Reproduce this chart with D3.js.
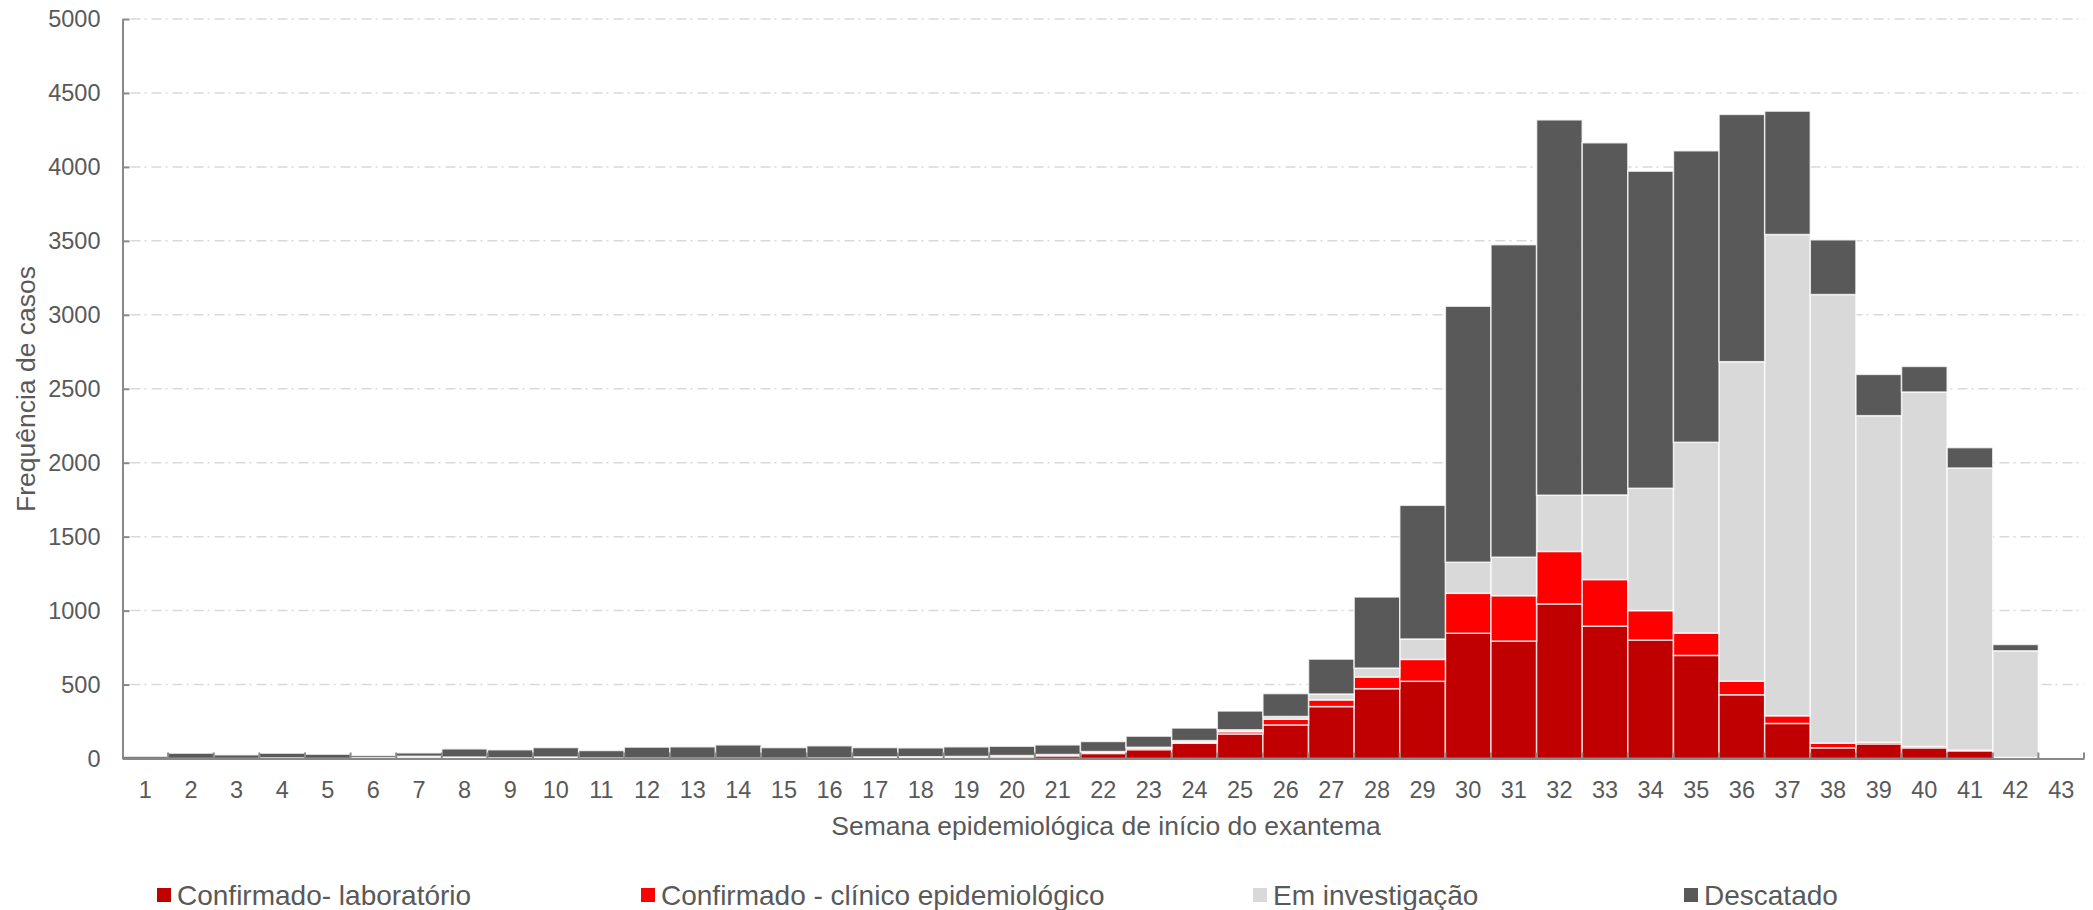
<!DOCTYPE html>
<html lang="pt">
<head>
<meta charset="UTF-8">
<title>Casos por semana epidemiológica</title>
<script src="https://d3js.org/d3.v7.min.js"></script>
<style>
  body { margin: 0; background: #fff; }
  text { font-family: "Liberation Sans", Arial, sans-serif; fill: #595959; }
</style>
</head>
<body>
<script>
// semanas epidemiologicas 1..43
var semanas = d3.range(1, 44);
// Confirmado- laboratório
var laboratorio = [0,0,0,4,0,0,10,3,3,8,2,2,1,2,1,3,2,6,8,11,18,34,60,103,166,227,351,472,522,847,794,1045,895,801,697,431,237,72,99,72,52,5,0];
// Confirmado - clínico epidemiológico
var clinico = [0,0,0,0,0,0,3,3,0,1,0,0,0,0,0,0,2,4,4,5,4,7,10,6,15,39,45,79,148,270,307,355,315,199,151,92,52,32,11,9,4,2,0];
// Em investigação
var investigacao = [0,0,0,0,0,5,2,4,1,1,1,0,0,0,0,0,7,2,2,4,5,6,6,12,13,18,40,60,138,210,260,380,572,827,1290,2160,3254,3033,2208,2397,1908,721,0];
// Descatado
var descartado = [15,36,25,32,29,15,23,55,55,64,51,75,78,90,73,83,63,60,65,63,65,68,75,85,127,155,236,481,904,1731,2113,2538,2381,2144,1971,1672,834,370,279,173,138,43,0];

var series = ["Confirmado- laboratório", "Confirmado - clínico epidemiológico", "Em investigação", "Descatado"];
var cores = ["#c00000", "#ff0000", "#d9d9d9", "#595959"];
var yTicks = d3.range(0, 5001, 500);

var W = 2093, H = 910;
var m = {left: 122.5, right: 2084, top: 19, bottom: 758.5};

var tabela = semanas.map(function(s, i) {
  return {semana: s, a: laboratorio[i], b: clinico[i], c: investigacao[i], d: descartado[i]};
});
var pilhas = d3.stack().keys(["a", "b", "c", "d"])(tabela);

var svg = d3.select("body").append("svg").attr("width", W).attr("height", H);

var x = d3.scaleBand().domain(semanas).range([m.left, m.right]).padding(0);
var y = d3.scaleLinear().domain([0, 5000]).range([m.bottom, m.top]);

// grade tracejada
svg.append("g").selectAll("line").data(yTicks.slice(1)).enter().append("line")
  .attr("x1", m.left + 8).attr("x2", m.right)
  .attr("y1", function(d) { return y(d); }).attr("y2", function(d) { return y(d); })
  .attr("stroke", "#d9d9d9").attr("stroke-width", 1.5)
  .attr("stroke-dasharray", "10,4,2,5");

// barras empilhadas
svg.append("g").selectAll("g").data(pilhas).enter().append("g")
  .attr("fill", function(d, i) { return cores[i]; })
  .selectAll("rect").data(function(d) { return d; }).enter().append("rect")
  .attr("x", function(d) { return x(d.data.semana); })
  .attr("width", x.bandwidth())
  .attr("y", function(d) { return y(d[1]); })
  .attr("height", function(d) { return y(d[0]) - y(d[1]); })
  .attr("stroke", "#fff").attr("stroke-opacity", 0.75).attr("stroke-width", 1.5);

// eixo y
var eixoY = svg.append("g").attr("transform", "translate(" + m.left + ",0)")
  .call(d3.axisLeft(y).tickValues(yTicks).tickFormat(d3.format("d"))
    .tickSize(-7).tickPadding(22).tickSizeOuter(0));
eixoY.select(".domain").attr("stroke", "#898989").attr("stroke-width", 2);
eixoY.selectAll(".tick line").attr("stroke", "#898989").attr("stroke-width", 2);
eixoY.selectAll("text").style("font-size", "23.5px").attr("fill", "#595959")
  .style("font-family", "'Liberation Sans', Arial, sans-serif");

// eixo x
var eixoX = svg.append("g").attr("transform", "translate(0," + m.bottom + ")")
  .call(d3.axisBottom(x).tickSize(0).tickPadding(23).tickSizeOuter(0));
eixoX.select(".domain").attr("stroke", "#898989").attr("stroke-width", 2);
eixoX.selectAll("text").style("font-size", "23.5px").attr("fill", "#595959")
  .style("font-family", "'Liberation Sans', Arial, sans-serif");
svg.append("g").selectAll("line").data(semanas).enter().append("line")
  .attr("x1", function(d) { return x(d) + x.bandwidth(); })
  .attr("x2", function(d) { return x(d) + x.bandwidth(); })
  .attr("y1", m.bottom).attr("y2", m.bottom - 6)
  .attr("stroke", "#898989").attr("stroke-width", 2);

// titulos
svg.append("text").attr("x", 1106).attr("y", 826).attr("dy", "0.35em")
  .attr("text-anchor", "middle").style("font-size", "26.5px")
  .text("Semana epidemiológica de início do exantema");
svg.append("text").attr("transform", "translate(26,389) rotate(-90)").attr("dy", "0.35em")
  .attr("text-anchor", "middle").style("font-size", "26.5px")
  .text("Frequência de casos");

// legenda
var legX = [157, 641, 1253, 1684];
var leg = svg.append("g").selectAll("g").data(series).enter().append("g")
  .attr("transform", function(d, i) { return "translate(" + legX[i] + ",895)"; });
leg.append("rect").attr("x", 0).attr("y", -7).attr("width", 14).attr("height", 14)
  .attr("fill", function(d, i) { return cores[i]; });
leg.append("text").attr("x", 20).attr("dy", "0.35em").style("font-size", "28px")
  .text(function(d) { return d; });
</script>
</body>
</html>
